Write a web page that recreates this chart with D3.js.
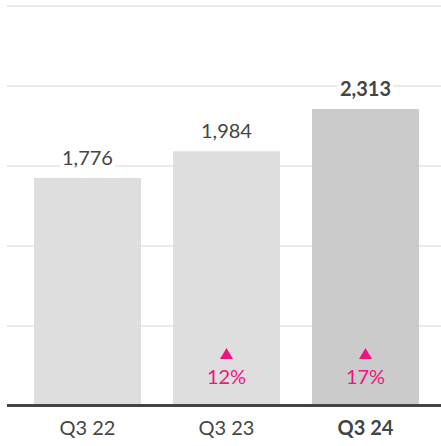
<!DOCTYPE html>
<html>
<head>
<meta charset="utf-8">
<script src="https://cdn.jsdelivr.net/npm/d3@7/dist/d3.min.js"></script>
<style>
  html, body { margin: 0; padding: 0; background: #fff; }
  svg { display: block; font-family: Lato, "Open Sans", sans-serif; }
</style>
</head>
<body>
<svg id="chart" width="441" height="446"></svg>
<script>
const categories = ["Q3 22", "Q3 23", "Q3 24"];
const values = [1776, 1984, 2313];
const changes = [null, "12%", "17%"];
const highlight = [false, false, true];

const W = 441, H = 446;
const svg = d3.select("#chart");

const yMax = d3.max(values) * 1.347;
const x = d3.scaleBand().domain(categories).range([18, 435]).paddingInner(0.23).paddingOuter(0.115);
const y = d3.scaleLinear().domain([0, yMax]).range([406, 6]);

// gridlines
const grid = d3.range(1, 6).map(i => i * yMax / 5);
svg.append("g").selectAll("line").data(grid).join("line")
  .attr("x1", 7).attr("x2", 441)
  .attr("y1", d => Math.round(y(d))).attr("y2", d => Math.round(y(d)))
  .attr("stroke", "#ebebeb").attr("stroke-width", 2);

// bars
svg.append("g").selectAll("rect").data(values).join("rect")
  .attr("x", (d, i) => x(categories[i]))
  .attr("width", x.bandwidth())
  .attr("y", d => y(d))
  .attr("height", d => y(0) - y(d))
  .attr("fill", (d, i) => highlight[i] ? "#cbcbcb" : "#dedede");

// value labels with white background
const lg = svg.append("g");
values.forEach((v, i) => {
  const g = lg.append("g");
  const t = g.append("text")
    .attr("x", x(categories[i]) + x.bandwidth() / 2)
    .attr("y", y(v) - 13)
    .attr("text-anchor", "middle")
    .attr("font-size", 20)
    .attr("font-weight", highlight[i] ? 700 : 400)
    .attr("fill", "#454545")
    .text(d3.format(",")(v));
  const b = t.node().getBBox();
  g.insert("rect", "text")
    .attr("x", b.x - 2).attr("y", b.y).attr("width", b.width + 4).attr("height", b.height)
    .attr("fill", "#fff");
});

// change indicators
const cg = svg.append("g");
changes.forEach((c, i) => {
  if (!c) return;
  const cx = x(categories[i]) + x.bandwidth() / 2;
  cg.append("path")
    .attr("d", `M${cx - 6.5},359 L${cx + 6.5},359 L${cx},348 Z`)
    .attr("fill", "#ee1581");
  cg.append("text")
    .attr("x", cx).attr("y", 384)
    .attr("text-anchor", "middle")
    .attr("font-size", 20)
    .attr("font-weight", 400)
    .attr("fill", "#ee1581")
    .text(c);
});

// baseline
svg.append("line").attr("x1", 7).attr("x2", 441)
  .attr("y1", 405.5).attr("y2", 405.5)
  .attr("stroke", "#444").attr("stroke-width", 3);

// x axis labels
const xAxis = d3.axisBottom(x).tickSize(0).tickPadding(0);
const ax = svg.append("g").call(xAxis);
ax.select(".domain").remove();
ax.selectAll(".tick text")
  .attr("y", 435).attr("dy", null)
  .attr("font-family", "Lato, sans-serif")
  .attr("font-size", 20)
  .attr("fill", "#454545")
  .attr("font-weight", (d, i) => highlight[i] ? 700 : 400);
</script>
</body>
</html>
